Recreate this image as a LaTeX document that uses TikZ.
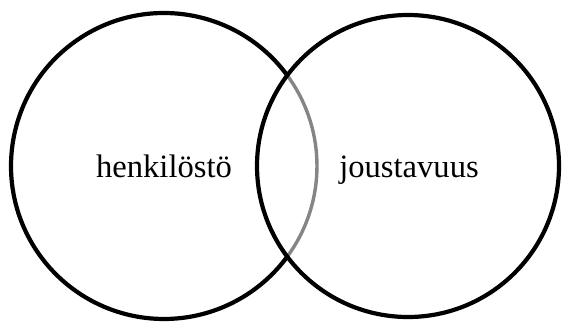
\documentclass[tikz,border=0pt]{standalone}
\usepackage{fontspec}
\setmainfont{Liberation Serif}
\begin{document}
\begin{tikzpicture}[x=1pt,y=1pt,
  ring/.style={circle, draw=black, line width=4.2pt, minimum size=#1, inner sep=0pt},
  outer/.style={draw=black, line width=4.2pt},
  lens/.style={draw=black!48, line width=3.4pt},
  label/.style={anchor=base, inner sep=0pt, font=\fontsize{32.6}{39}\selectfont}]
\useasboundingbox (0,0) rectangle (563,322);
\coordinate (L) at (164,156);
\draw[outer] (L) ++(36.4:153) arc[start angle=36.4, end angle=323.6, radius=153];
\draw[lens] (L) ++(-36.4:153) arc[start angle=-36.4, end angle=36.4, radius=153];
\node[ring=302pt] (R) at (408,156) {};
\node[label] (t1) at (164,145) {henkilöstö};
\node[label] (t2) at (409,145) {joustavuus};
\end{tikzpicture}
\end{document}
